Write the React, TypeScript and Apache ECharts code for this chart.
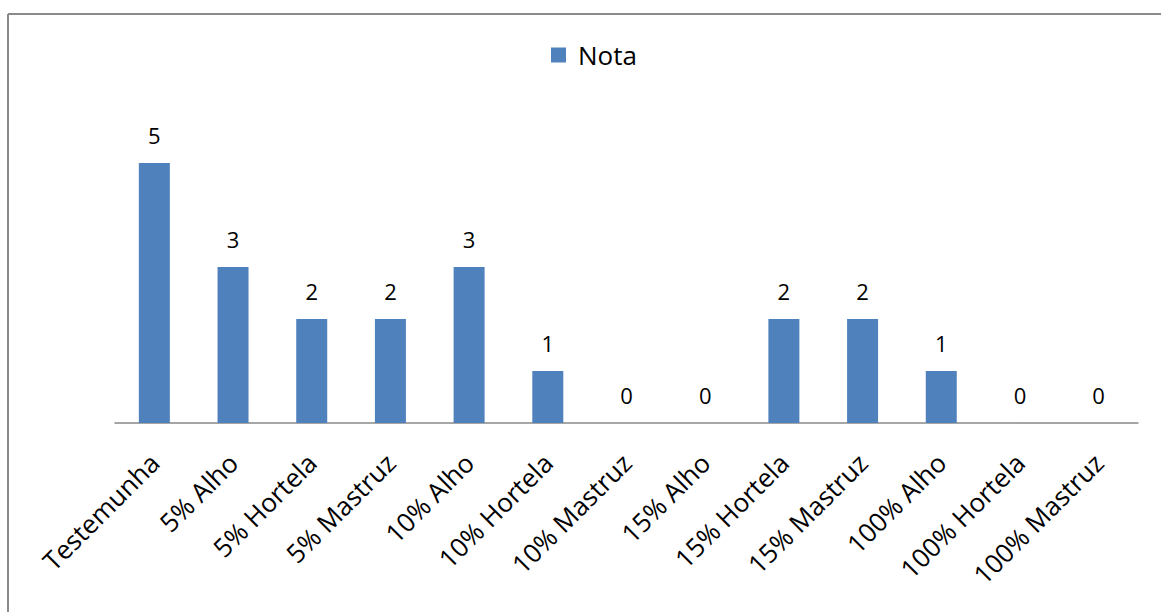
import React, { useEffect, useRef } from "react";
import * as echarts from "echarts";

const categories = [
  "Testemunha",
  "5% Alho",
  "5% Hortela",
  "5% Mastruz",
  "10% Alho",
  "10% Hortela",
  "10% Mastruz",
  "15% Alho",
  "15% Hortela",
  "15% Mastruz",
  "100% Alho",
  "100% Hortela",
  "100% Mastruz",
];
const notaValues = [5, 3, 2, 2, 3, 1, 0, 0, 2, 2, 1, 0, 0];
const seriesName = "Nota";

const FONT = "'Open Sans', 'Liberation Sans', sans-serif";

export default function App() {
  const ref = useRef<HTMLDivElement>(null);
  useEffect(() => {
    document.body.style.margin = "0";
    const chart = echarts.init(ref.current!, null, { renderer: "svg" });
    chart.setOption({
      animation: false,
      backgroundColor: "#ffffff",
      legend: {
        data: [seriesName],
        top: 41,
        left: 551,
        padding: 0,
        itemWidth: 15,
        itemHeight: 15,
        itemGap: 8,
        icon: "rect",
        textStyle: {
          fontFamily: FONT,
          fontSize: 26,
          lineHeight: 28,
          color: "#000",
          padding: [0, 0, 0, 7],
        },
      },
      grid: { left: 115, right: 23, top: 111, bottom: 189, containLabel: false },
      xAxis: {
        type: "category",
        data: categories,
        axisLine: { lineStyle: { color: "#888888", width: 1.5 } },
        axisTick: { show: false },
        axisLabel: {
          rotate: 45,
          interval: 0,
          margin: 35,
          fontFamily: FONT,
          fontSize: 26,
          color: "#000",
        },
      },
      yAxis: {
        type: "value",
        min: 0,
        max: 6,
        show: false,
        splitLine: { show: false },
      },
      series: [
        {
          name: seriesName,
          type: "bar",
          data: notaValues,
          barWidth: 31,
          itemStyle: { color: "#4F81BD" },
          label: {
            show: true,
            position: "top",
            distance: 17,
            fontFamily: FONT,
            fontSize: 22,
            color: "#000",
          },
        },
      ],
      graphic: [
        {
          type: "line",
          shape: { x1: 8, y1: 14, x2: 1161, y2: 14 },
          style: { stroke: "#8a8a8a", lineWidth: 2 },
        },
        {
          type: "line",
          shape: { x1: 8, y1: 14, x2: 8, y2: 612 },
          style: { stroke: "#8a8a8a", lineWidth: 2 },
        },
      ],
    });
    return () => chart.dispose();
  }, []);
  return (
    <div
      ref={ref}
      style={{ position: "absolute", left: 0, top: 0, width: 1161, height: 612 }}
    />
  );
}
